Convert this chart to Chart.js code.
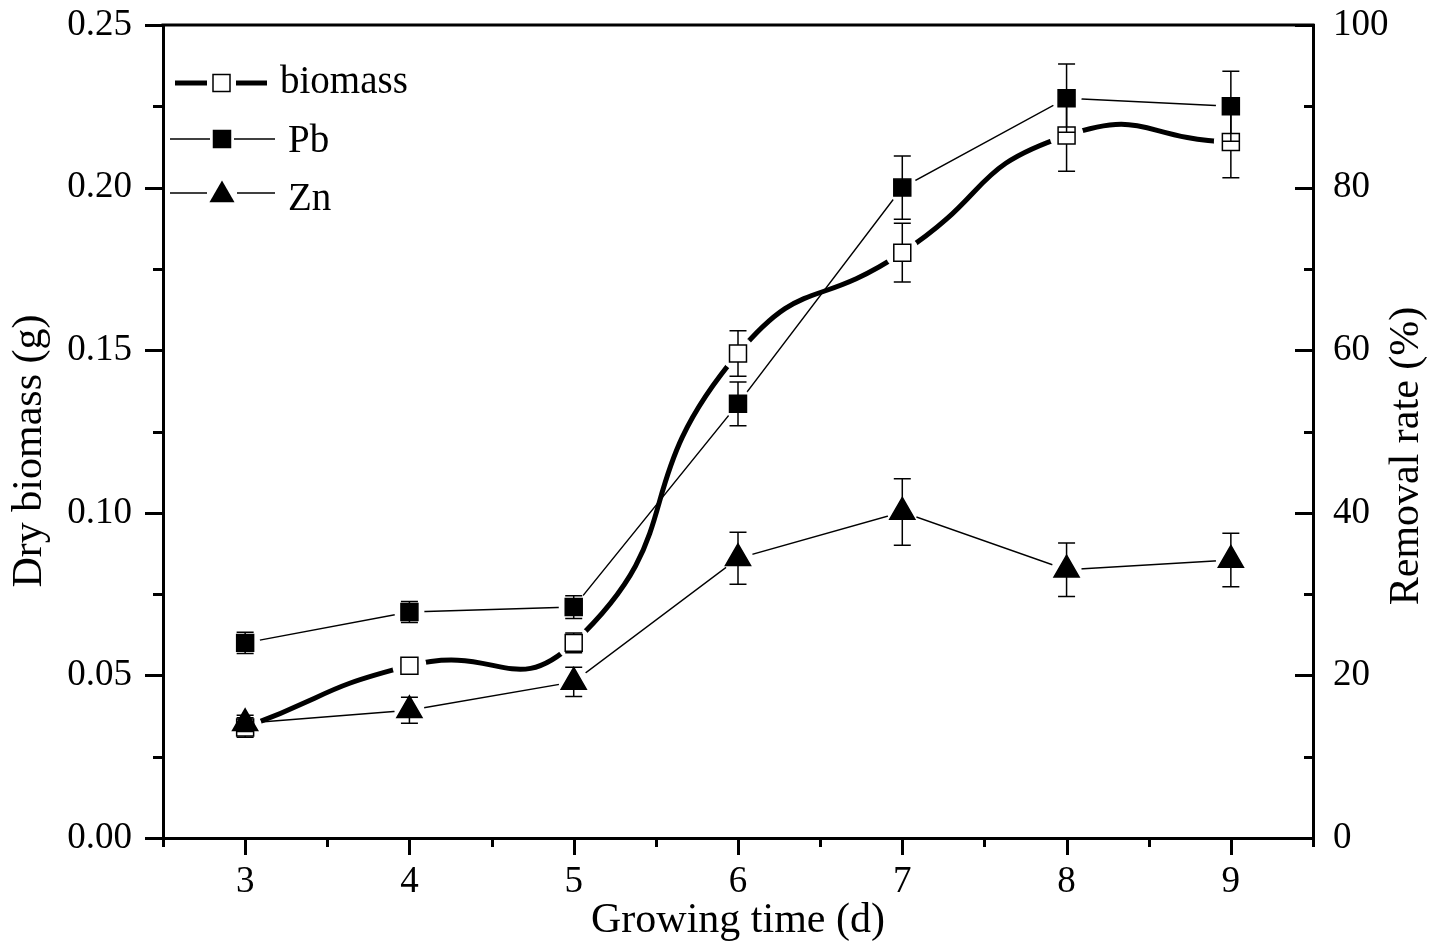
<!DOCTYPE html>
<html><head><meta charset="utf-8">
<script src="https://cdn.jsdelivr.net/npm/chart.js@4.4.0/dist/chart.umd.min.js"></script>
<style>html,body{margin:0;padding:0;background:#fff}#wrap{width:1442px;height:949px;position:relative}</style>
</head><body><div id="wrap"><canvas id="c"></canvas></div>
<script>
// ---- data ----
const days = [3, 4, 5, 6, 7, 8, 9];
const biomass = [0.034, 0.053, 0.060, 0.149, 0.180, 0.216, 0.214];
const biomassErr = [0.003, 0.002, 0.003, 0.007, 0.009, 0.011, 0.011];
const pb = [24.0, 27.8, 28.4, 53.4, 80.0, 91.0, 90.0];
const pbErr = [1.3, 1.3, 1.4, 2.7, 3.9, 4.2, 4.3];
const zn = [14.1, 15.7, 19.2, 34.4, 40.1, 33.0, 34.2];
const znErr = [1.0, 1.6, 1.8, 3.2, 4.1, 3.3, 3.3];
const leftTicks = [0, 0.05, 0.10, 0.15, 0.20, 0.25];
const rightTicks = [0, 20, 40, 60, 80, 100];
const seriesNames = ['biomass', 'Pb', 'Zn'];
const xTitle = 'Growing time (d)';
const yTitle = 'Dry biomass (g)';
const y1Title = 'Removal rate (%)';

const FONT = '"Liberation Serif", "Times New Roman", serif';
const pts = ys => days.map((d, i) => ({x: d, y: ys[i]}));

function markerDs(label, ys, axis, style, radius, fill, err, order) {
  return {label, data: pts(ys), yAxisID: axis, showLine: false, pointStyle: style,
    pointRadius: radius, pointHoverRadius: radius, pointBackgroundColor: fill,
    pointBorderColor: '#000', pointBorderWidth: 1.5, order, errVals: err};
}
function maskDs(ys, axis, r) {
  return {label: '_mask', data: pts(ys), yAxisID: axis, showLine: false, pointStyle: 'circle',
    pointRadius: r, pointHoverRadius: r, pointBackgroundColor: '#fff', pointBorderWidth: 0,
    pointBorderColor: '#fff', order: 10};
}
function lineDs(ys, axis, w, tension) {
  return {label: '_line', data: pts(ys), yAxisID: axis, pointRadius: 0, pointHoverRadius: 0,
    borderColor: '#000', borderWidth: w, tension, fill: false, order: 20, borderCapStyle: 'round'};
}

function drawSquare(ctx, x, y, filled) {
  ctx.save();
  ctx.fillStyle = filled ? '#000' : '#fff';
  ctx.strokeStyle = '#000'; ctx.lineWidth = 1.5;
  ctx.fillRect(x - 8.5, y - 8.5, 17, 17);
  ctx.strokeRect(x - 8.5, y - 8.5, 17, 17);
  ctx.restore();
}
function drawTri(ctx, x, y) {
  const r = 14.5;
  ctx.save();
  ctx.fillStyle = '#000';
  ctx.beginPath();
  ctx.moveTo(x, y - r);
  ctx.lineTo(x + r * Math.sin(Math.PI / 3), y + r / 2);
  ctx.lineTo(x - r * Math.sin(Math.PI / 3), y + r / 2);
  ctx.closePath(); ctx.fill();
  ctx.restore();
}
function hline(ctx, x1, x2, y, w) {
  ctx.save(); ctx.strokeStyle = '#000'; ctx.lineWidth = w;
  ctx.beginPath(); ctx.moveTo(x1, y); ctx.lineTo(x2, y); ctx.stroke(); ctx.restore();
}

const decor = {
  id: 'decor',
  beforeDatasetDraw(chart, args) {
    const ds = chart.data.datasets[args.index];
    if (!ds.errVals) return;
    const ctx = chart.ctx, xs = chart.scales.x, ys = chart.scales[ds.yAxisID];
    ctx.save(); ctx.strokeStyle = '#000'; ctx.lineWidth = 1.5;
    ds.data.forEach((p, i) => {
      const e = ds.errVals[i];
      const px = xs.getPixelForValue(p.x);
      const t = ys.getPixelForValue(p.y + e), b = ys.getPixelForValue(p.y - e);
      ctx.beginPath();
      ctx.moveTo(px, t); ctx.lineTo(px, b);
      ctx.moveTo(px - 8.5, t); ctx.lineTo(px + 8.5, t);
      ctx.moveTo(px - 8.5, b); ctx.lineTo(px + 8.5, b);
      ctx.stroke();
    });
    ctx.restore();
  },
  afterDraw(chart) {
    const ctx = chart.ctx, a = chart.chartArea;
    const {x, y, y1} = chart.scales;
    ctx.save();
    ctx.strokeStyle = '#000'; ctx.lineWidth = 3;
    // top frame line
    ctx.beginPath(); ctx.moveTo(a.left - 1.5, a.top); ctx.lineTo(a.right + 1.5, a.top); ctx.stroke();
    ctx.beginPath();
    // bottom axis ticks (outward)
    for (let v = x.min; v <= x.max + 1e-9; v += 0.5) {
      const px = Math.round(x.getPixelForValue(v)) + 0.5;
      const len = Number.isInteger(v) ? 17 : 9;
      ctx.moveTo(px, a.bottom); ctx.lineTo(px, a.bottom + len);
    }
    // left axis ticks (outward)
    for (let k = 0; k <= 10; k++) {
      const v = y.min + k * (y.max - y.min) / 10;
      const py = Math.round(y.getPixelForValue(v)) + 0.5;
      const len = k % 2 === 0 ? 18 : 10;
      ctx.moveTo(a.left, py); ctx.lineTo(a.left - len, py);
    }
    // right axis ticks (inward)
    for (let k = 0; k <= 10; k++) {
      const v = y1.min + k * (y1.max - y1.min) / 10;
      const py = Math.round(y1.getPixelForValue(v)) + 0.5;
      const len = k % 2 === 0 ? 18 : 9;
      ctx.moveTo(a.right, py); ctx.lineTo(a.right - len, py);
    }
    ctx.stroke();

    // y titles (both read bottom-to-top)
    ctx.fillStyle = '#000';
    ctx.font = '42px ' + FONT;
    ctx.textAlign = 'center'; ctx.textBaseline = 'middle';
    ctx.save(); ctx.translate(30, 451); ctx.rotate(-Math.PI / 2); ctx.fillText(yTitle, 0, 0); ctx.restore();
    ctx.save(); ctx.translate(1407, 456); ctx.rotate(-Math.PI / 2); ctx.fillText(y1Title, 0, 0); ctx.restore();

    // legend
    ctx.font = '39px ' + FONT;
    ctx.textAlign = 'left'; ctx.textBaseline = 'alphabetic';
    // biomass
    hline(ctx, 175, 207, 83, 5); hline(ctx, 236, 267, 83, 5);
    drawSquare(ctx, 221.5, 83, false);
    ctx.fillText(seriesNames[0], 280, 93);
    // Pb
    hline(ctx, 170, 210, 139, 1.5); hline(ctx, 234, 275, 139, 1.5);
    drawSquare(ctx, 222, 139, true);
    ctx.fillText(seriesNames[1], 288, 152);
    // Zn
    hline(ctx, 170, 207, 193, 1.5); hline(ctx, 237, 275, 193, 1.5);
    drawTri(ctx, 222, 195);
    ctx.fillText(seriesNames[2], 288, 210);
    ctx.restore();
  }
};

const tickFont = {family: FONT, size: 37};
const noPad = s => { s.paddingTop = 0; s.paddingBottom = 0; s.paddingLeft = 0; s.paddingRight = 0; };

new Chart(document.getElementById('c'), {
  type: 'line',
  data: {
    datasets: [
      markerDs(seriesNames[0], biomass, 'y', 'rect', 12, '#fff', biomassErr, 3),
      markerDs(seriesNames[1], pb, 'y1', 'rect', 12, '#000', pbErr, 2),
      markerDs(seriesNames[2], zn, 'y1', 'triangle', 14.5, '#000', znErr, 1),
      maskDs(biomass, 'y', 17),
      maskDs(pb, 'y1', 15),
      maskDs(zn, 'y1', 15),
      lineDs(biomass, 'y', 5, 0.55),
      lineDs(pb, 'y1', 1.5, 0),
      lineDs(zn, 'y1', 1.5, 0)
    ]
  },
  options: {
    responsive: true, maintainAspectRatio: false, animation: false, events: [],
    layout: {padding: {top: 25, left: 0, right: 0, bottom: 0}},
    plugins: {legend: {display: false}, tooltip: {enabled: false}},
    scales: {
      x: {
        type: 'linear', position: 'bottom', min: 2.5, max: 9.5,
        afterBuildTicks: s => { s.ticks = days.map(v => ({value: v})); },
        ticks: {font: tickFont, color: '#000', padding: 22, maxRotation: 0, callback: v => String(v)},
        grid: {display: false, drawTicks: false},
        border: {display: true, color: '#000', width: 3},
        title: {display: true, text: xTitle, color: '#000', font: {family: FONT, size: 42}, padding: {top: 0, bottom: 3}},
        afterFit: s => { s.height = 111; noPad(s); }
      },
      y: {
        type: 'linear', position: 'left', min: 0, max: 0.25,
        afterBuildTicks: s => { s.ticks = leftTicks.map(v => ({value: v})); },
        ticks: {font: tickFont, color: '#000', padding: 31, callback: v => Number(v).toFixed(2)},
        grid: {display: false, drawTicks: false},
        border: {display: true, color: '#000', width: 3},
        title: {display: false},
        afterFit: s => { s.width = 163; noPad(s); }
      },
      y1: {
        type: 'linear', position: 'right', min: 0, max: 100,
        afterBuildTicks: s => { s.ticks = rightTicks.map(v => ({value: v})); },
        ticks: {font: tickFont, color: '#000', padding: 20, callback: v => String(v)},
        grid: {display: false, drawTicks: false},
        border: {display: true, color: '#000', width: 3},
        title: {display: false},
        afterFit: s => { s.width = 129; noPad(s); }
      }
    }
  },
  plugins: [decor]
});
</script>
</body></html>
